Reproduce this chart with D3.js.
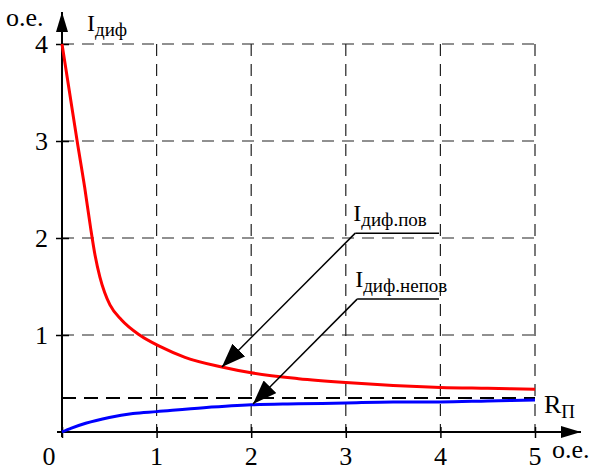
<!DOCTYPE html>
<html>
<head>
<meta charset="utf-8">
<script src="https://cdn.jsdelivr.net/npm/d3@7"></script>
</head>
<body style="margin:0">
<script>
// Relative resistance R (о.е.) and differential currents (о.е.)
const redX = [0, 0.08, 0.16, 0.24, 0.3, 0.35, 0.4, 0.45, 0.507, 0.63, 0.82, 1.04, 1.3, 1.69, 2.0, 2.5, 3.0, 3.5, 4.0, 4.5, 5.0];
const redY = [4.0, 3.5, 3.0, 2.52, 2.12, 1.82, 1.6, 1.44, 1.31, 1.155, 1.0, 0.88, 0.77, 0.67, 0.61, 0.55, 0.51, 0.48, 0.46, 0.45, 0.44];
const blueX = [0, 0.1, 0.25, 0.5, 0.75, 1.0, 1.5, 2.0, 2.5, 3.0, 3.5, 4.0, 4.5, 5.0];
const blueY = [0, 0.04, 0.09, 0.15, 0.19, 0.21, 0.25, 0.28, 0.29, 0.3, 0.31, 0.31, 0.32, 0.33];
const rLimit = 0.35;
const xTicks = [0, 1, 2, 3, 4, 5];
const yTicks = [1, 2, 3, 4];

const width = 598, height = 470;
const serif = 'Liberation Serif';
const x = d3.scaleLinear().domain([0, 5]).range([62, 535]);
const y = d3.scaleLinear().domain([0, 4]).range([432, 44]);

const svg = d3.select('body').append('svg')
    .attr('width', width)
    .attr('height', height);

const defs = svg.append('defs');
defs.append('marker')
    .attr('id', 'axisArrow')
    .attr('markerUnits', 'userSpaceOnUse')
    .attr('viewBox', '0 0 20 12')
    .attr('refX', 20).attr('refY', 6)
    .attr('markerWidth', 20).attr('markerHeight', 12)
    .attr('orient', 'auto')
    .append('path').attr('d', 'M0,0 L20,6 L0,12 Z').attr('fill', '#000');
defs.append('marker')
    .attr('id', 'noteArrow')
    .attr('markerUnits', 'userSpaceOnUse')
    .attr('viewBox', '0 0 24 18')
    .attr('refX', 24).attr('refY', 9)
    .attr('markerWidth', 24).attr('markerHeight', 18)
    .attr('orient', 'auto')
    .append('path').attr('d', 'M0,0 L24,9 L0,18 Z').attr('fill', '#000');

// dashed grid
const grid = svg.append('g')
    .attr('stroke', '#222')
    .attr('stroke-width', 1.2)
    .attr('stroke-dasharray', '12,8');
grid.selectAll('.hgrid').data(yTicks).enter()
    .append('line')
    .attr('x1', x(0)).attr('x2', x(5))
    .attr('y1', d => y(d)).attr('y2', d => y(d));
grid.selectAll('.vgrid').data(xTicks.slice(1)).enter()
    .append('line')
    .attr('x1', d => x(d)).attr('x2', d => x(d))
    .attr('y1', y(4)).attr('y2', y(0));

// R_П level
svg.append('line')
    .attr('x1', x(0)).attr('x2', x(5))
    .attr('y1', y(rLimit)).attr('y2', y(rLimit))
    .attr('stroke', '#000')
    .attr('stroke-width', 2)
    .attr('stroke-dasharray', '14,8');

// axes: ticks from d3, labels drawn as plain text
const xAxis = svg.append('g')
    .attr('transform', `translate(0,${y(0)})`)
    .call(d3.axisBottom(x).tickValues(xTicks).tickSize(6).tickFormat(''));
const yAxis = svg.append('g')
    .attr('transform', `translate(${x(0)},0)`)
    .call(d3.axisLeft(y).tickValues(yTicks).tickSize(6).tickFormat(''));

[xAxis, yAxis].forEach(g => {
    g.select('.domain').remove();
    g.selectAll('.tick text').remove();
    g.selectAll('.tick line').attr('stroke', '#000').attr('stroke-width', 1.5);
});
xAxis.selectAll('.tick line').attr('y1', -5).attr('y2', 6);
yAxis.selectAll('.tick line').attr('x1', -6).attr('x2', 7);

svg.selectAll('.xlab').data(xTicks).enter()
    .append('text')
    .attr('x', d => x(d) + (d === 0 ? -13 : 0))
    .attr('y', y(0) + 33)
    .attr('text-anchor', 'middle')
    .attr('font-family', serif)
    .attr('font-size', 26)
    .text(d => d);
svg.selectAll('.ylab').data(yTicks).enter()
    .append('text')
    .attr('x', x(0) - 14)
    .attr('y', d => y(d) + 9)
    .attr('text-anchor', 'end')
    .attr('font-family', serif)
    .attr('font-size', 26)
    .text(d => d);

svg.append('line')
    .attr('x1', x(0) - 5).attr('x2', 581)
    .attr('y1', y(0)).attr('y2', y(0))
    .attr('stroke', '#000').attr('stroke-width', 2)
    .attr('marker-end', 'url(#axisArrow)');
svg.append('line')
    .attr('x1', x(0)).attr('x2', x(0))
    .attr('y1', y(0) + 5).attr('y2', 12)
    .attr('stroke', '#000').attr('stroke-width', 2)
    .attr('marker-end', 'url(#axisArrow)');

// curves
const line = d3.line()
    .x(d => x(d[0]))
    .y(d => y(d[1]))
    .curve(d3.curveMonotoneX);
svg.append('path')
    .datum(redX.map((v, i) => [v, redY[i]]))
    .attr('d', line)
    .attr('fill', 'none')
    .attr('stroke', '#ff0000')
    .attr('stroke-width', 3);
svg.append('path')
    .datum(blueX.map((v, i) => [v, blueY[i]]))
    .attr('d', line)
    .attr('fill', 'none')
    .attr('stroke', '#0000ff')
    .attr('stroke-width', 3);

// callouts
const notes = [
    { sub: 'диф.пов', from: [3.1, 2.05], to: [1.69, 0.67], end: 3.985 },
    { sub: 'диф.непов', from: [3.12, 1.37], to: [2.02, 0.29], end: 3.985 }
];

function addLabel(px, py, main, sub, size, subSize) {
    const t = svg.append('text')
        .attr('x', px).attr('y', py)
        .attr('font-family', serif)
        .attr('font-size', size);
    t.append('tspan').text(main);
    t.append('tspan').attr('dy', 5).attr('font-size', subSize).text(sub);
    return t;
}

notes.forEach(n => {
    svg.append('line')
        .attr('x1', x(n.from[0])).attr('y1', y(n.from[1]))
        .attr('x2', x(n.end)).attr('y2', y(n.from[1]))
        .attr('stroke', '#000').attr('stroke-width', 1.5);
    svg.append('line')
        .attr('x1', x(n.from[0])).attr('y1', y(n.from[1]))
        .attr('x2', x(n.to[0])).attr('y2', y(n.to[1]))
        .attr('stroke', '#000').attr('stroke-width', 1.5)
        .attr('marker-end', 'url(#noteArrow)');
    addLabel(x(n.from[0]) - 2, y(n.from[1]) - 12, 'I', n.sub, 24, 19);
});

// axis titles
svg.append('text').attr('x', 6).attr('y', 26)
    .attr('font-family', serif).attr('font-size', 26).text('о.е.');
addLabel(87, 31, 'I', 'диф', 24, 19);
svg.append('text').attr('x', 552).attr('y', 458)
    .attr('font-family', serif).attr('font-size', 26).text('о.е.');
addLabel(544, 413, 'R', 'П', 26, 19);
</script>
</body>
</html>
